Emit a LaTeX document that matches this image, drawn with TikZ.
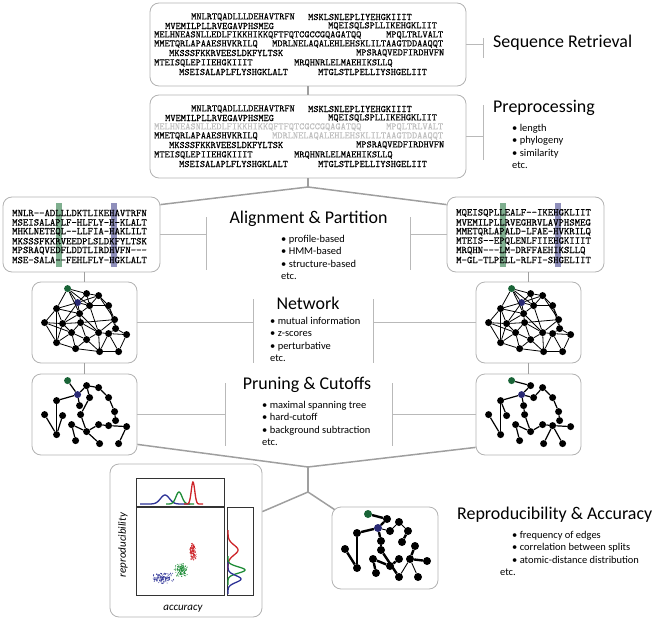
\documentclass[tikz,border=0pt]{standalone}
\usepackage{fontspec}
\setmainfont{Carlito}
\setmonofont{Latin Modern Mono}
\newfontfamily\seqfont{Latin Modern Mono}[FakeBold=0.6]
\usetikzlibrary{positioning,calc}

\definecolor{nodegreen}{RGB}{25,100,55}
\definecolor{nodeblue}{RGB}{40,40,115}
\definecolor{colgreen}{RGB}{95,155,115}
\definecolor{colblue}{RGB}{115,115,170}
\definecolor{ptred}{RGB}{205,35,40}
\definecolor{ptgreen}{RGB}{30,140,55}
\definecolor{ptblue}{RGB}{45,50,150}

% node layout shared by the four small graphs (offsets inside a panel)
\newcommand{\graphnodes}{g/36/7/nodegreen, b/46/21/nodeblue, a1/55/12/black,
  a2/67/14/black, a3/58/24/black, a4/25/27/black, a5/77/24/black, a6/13/41/black,
  a7/31/42/black, a8/49/41/black, a9/83/38/black, a10/40/51/black, a11/55/58/black,
  a12/67/51/black, a13/77/52/black, a14/95/53/black, a15/25/61/black, a16/44/67/black,
  a17/68/70/black, a18/87/70/black, a19/48/32/black, a20/84/47/black}
\newcommand{\netedges}{g/b, g/a1, g/a4, g/a19, g/a3, b/a1, b/a2, b/a3, b/a4, b/a19,
  b/a7, a1/a2, a1/a3, a2/a5, a2/a3, a3/a5, a3/a19, a3/a12, a5/a9, a5/a20, a4/a6,
  a4/a7, a4/a19, a6/a7, a6/a15, a7/a8, a7/a15, a7/a10, a7/a19, a8/a19, a8/a10,
  a8/a11, a8/a12, a8/a9, a9/a20, a9/a12, a20/a13, a20/a14, a12/a13, a12/a11,
  a12/a17, a13/a14, a13/a18, a13/a17, a14/a18, a10/a11, a10/a16, a10/a15, a11/a16,
  a11/a17, a16/a17, a17/a18, a15/a16, a6/a10, a2/a9, a19/a12, a4/a15}
\newcommand{\treeLedges}{g/b, b/a1, a1/a2, a2/a5, a5/a9, b/a4, a4/a15, a6/a15,
  a7/a15, a1/a3, a3/a8, a8/a11, a10/a11, a10/a16, a11/a12, a11/a17, a12/a13,
  a13/a14, a14/a18, a19/b, a9/a20}
\newcommand{\treeRedges}{g/a1, a1/b, b/a4, a4/a15, a6/a15, a7/a4, b/a19, a19/a8,
  a8/a11, a10/a11, a10/a16, a11/a12, a12/a13, a13/a14, a13/a18, a13/a17, b/a3,
  a3/a2, a2/a5, a5/a9, a9/a20}

\begin{document}
\begin{tikzpicture}[x=1bp, y=-1bp,
    panel/.style={draw=gray!60, rounded corners=9bp, line width=0.8bp, inner sep=0},
    link/.style={draw=gray!75, line width=1.5bp},
    guide/.style={draw=gray!55, line width=0.9bp},
    headline/.style={font=\fontsize{18}{20}\selectfont, inner sep=0},
    points/.style={font=\fontsize{10.5}{12.4}\selectfont, align=left, inner sep=0, anchor=north west},
    seq/.style={font=\seqfont\fontsize{9.9}{9}\selectfont, inner sep=0, anchor=west},
    aln/.style={font=\seqfont\fontsize{10.3}{9}\selectfont, inner sep=0, anchor=west},
    dot/.style={circle, fill=black, inner sep=0, minimum size=7bp},
    bigdot/.style={circle, fill=black, inner sep=0, minimum size=8bp},
    edge/.style={line width=0.8bp},
    treeedge/.style={line width=1.2bp},
    frame/.style={draw=black!80, line width=0.9bp, inner sep=0},
    axislabel/.style={font=\itshape\fontsize{11}{12}\selectfont, inner sep=0}]
    \useasboundingbox (0,0) rectangle (661,620);

    % sequence panels
    \node[panel, minimum width=316bp, minimum height=83bp] (seqA) at (308,44.5) {};
    \node[panel, minimum width=316bp, minimum height=83bp] (seqB) at (308,136.5) {};
    \foreach \y/\xa/\sa/\xb/\sb/\ca/\cb [count=\i] in {
        17/191/MNLRTQADLLLDEHAVTRFN/308/MSKLSNLEPLIYEHGKIIIT/black/black,
        26/165/MVEMILPLLRVEGAVPHSMEG/328/MQEISQLSPLLIKEHGKLIIT/black/black,
        35/154/MELHNEASNLLEDLFIKKHIKKQFTFQTCGCCGQAGATQQ/386/MPQLTRLVALT/gray!50/gray!50,
        44/154/MMETQRLAPAAESHVKRILQ/272/MDRLNELAQALEHLEHSKLILTAAGTDDAAQQT/black/gray!50,
        53/169/MKSSSFKKRVEESLDKFYLTSK/356/MPSRAQVEDFIRDHVFN/black/black,
        63/154/MTEISQLEPIIEHGKIIIT/294/MRQHNRLELMAEHIKSLLQ/black/black,
        72/179/MSEISALAPLFLYSHGKLALT/318/MTGLSTLPELLIYSHGELIIT/black/black}{
        \node[seq] (top-\i a) at (\xa,\y) {\sa};
        \node[seq] (top-\i b) at (\xb,\y) {\sb};
        \node[seq, text=\ca] (pre-\i a) at (\xa,\y+92) {\sa};
        \node[seq, text=\cb] (pre-\i b) at (\xb,\y+92) {\sb};
    }

    \node[headline, anchor=west] (hSeq) at (493,43) {Sequence Retrieval};
    \coordinate (tSeq1) at (483,38);
    \coordinate (tSeq2) at (483,58);
    \draw[guide] (tSeq1) -- (tSeq2);
    \draw[guide] (seqA.east) -- (seqA.east -| tSeq1);

    \node[headline, anchor=west] (hPre) at (493,108) {Preprocessing};
    \node[points] (pPre) at (512,124) {• length\\• phylogeny\\• similarity\\etc.};
    \coordinate (tPre1) at (483,105);
    \coordinate (tPre2) at (483,160);
    \draw[guide] (tPre1) -- (tPre2);
    \draw[guide] (seqB.east) -- (seqB.east -| tPre1);

    \draw[link] (seqA.south) -- (seqB.north);

    % alignment panels
    \node[panel, minimum width=157bp, minimum height=75bp] (alnL) at (81.5,234.5) {};
    \node[panel, minimum width=157bp, minimum height=75bp] (alnR) at (525.5,234.5) {};
    \fill[colgreen, opacity=.8] (56,203) rectangle (61.5,267);
    \fill[colblue, opacity=.8] (111,203) rectangle (116.5,267);
    \fill[colgreen, opacity=.8] (500,203) rectangle (505.5,267);
    \fill[colblue, opacity=.8] (555,203) rectangle (560.5,267);
    \foreach \sl/\sr [count=\i] in {
        MNLR--ADLLLDKTLIKEHAVTRFN/MQEISQPLLEALF--IKEHGKLIIT,
        MSEISALAPLF-HLFLY-H-KLALT/MVEMILPLLRVEGHRVLAVPHSMEG,
        MHKLNETEQL--LLFIA-HAKLILT/MMETQRLAPALD-LFAE-HVKRILQ,
        MKSSSFKKRVEEDPLSLDKFYLTSK/MTEIS--EPQLENLFIIEHGKIIIT,
        MPSRAQVEDFLDDTLIRDHVFN---/MRQHN---LM-DRFFAEHIKSLLQ,
        MSE-SALA--FEHLFLY-HGKLALT/M-GL-TLPELL-RLFI-SHGELIIT}{
        \node[aln] (aL-\i) at (12,{203.6+9.4*\i}) {\sl};
        \node[aln] (aR-\i) at (456,{203.6+9.4*\i}) {\sr};
    }

    \coordinate (split) at (308,187);
    \draw[link] (seqB.south) -- (split);
    \draw[link] (split) -- ($(alnL.north east)+(0,8)$);
    \draw[link] (split) -- ($(alnR.north west)+(0,8)$);

    \node[headline] (hAln) at (308.5,219) {Alignment \& Partition};
    \node[points] (pAln) at (281,235) {• profile-based\\• HMM-based\\• structure-based\\etc.};
    \coordinate (tAlnL1) at (206,217);
    \coordinate (tAlnL2) at (206,270);
    \coordinate (tAlnR1) at (410,217);
    \coordinate (tAlnR2) at (410,270);
    \draw[guide] (tAlnL1) -- (tAlnL2);
    \draw[guide] (tAlnR1) -- (tAlnR2);
    \draw[guide] (alnL.east) -- (alnL.east -| tAlnL1);
    \draw[guide] (alnR.west) -- (alnR.west -| tAlnR1);

    % network and pruning panels
    \node[panel, minimum width=105bp, minimum height=81bp] (netL) at (84.5,322.5) {};
    \node[panel, minimum width=105bp, minimum height=81bp] (netR) at (528.5,322.5) {};
    \node[panel, minimum width=105bp, minimum height=81bp] (prnL) at (84.5,414.5) {};
    \node[panel, minimum width=105bp, minimum height=81bp] (prnR) at (528.5,414.5) {};
    \draw[link] (netL.north |- alnL.south) -- (netL.north);
    \draw[link] (netR.north |- alnR.south) -- (netR.north);
    \draw[link] (netL.south) -- (prnL.north);
    \draw[link] (netR.south) -- (prnR.north);

    \foreach \p in {netL,netR,prnL,prnR}{
        \begin{scope}[shift={(\p.north west)}]
            \foreach \n/\x/\y/\c in \graphnodes
                \node[dot, fill=\c] (\p-\n) at (\x,\y) {};
        \end{scope}
    }
    \foreach \p in {netL,netR}
        \foreach \u/\v in \netedges
            \draw[edge] (\p-\u) -- (\p-\v);
    \foreach \u/\v in \treeLedges
        \draw[treeedge] (prnL-\u) -- (prnL-\v);
    \foreach \u/\v in \treeRedges
        \draw[treeedge] (prnR-\u) -- (prnR-\v);

    \node[headline] (hNet) at (308,303) {Network};
    \node[points] (pNet) at (270,317) {• mutual information\\• z-scores\\• perturbative\\etc.};
    \coordinate (tNetL1) at (253,299);
    \coordinate (tNetL2) at (253,363);
    \coordinate (tNetR1) at (373,299);
    \coordinate (tNetR2) at (373,363);
    \draw[guide] (tNetL1) -- (tNetL2);
    \draw[guide] (tNetR1) -- (tNetR2);
    \draw[guide] (netL.east) -- (netL.east -| tNetL1);
    \draw[guide] (netR.west) -- (netR.west -| tNetR1);

    \node[headline] (hPrn) at (307,385) {Pruning \& Cutoffs};
    \node[points] (pPrn) at (262,401) {• maximal spanning tree\\• hard-cutoff\\• background subtraction\\etc.};
    \coordinate (tPrnL1) at (225,383);
    \coordinate (tPrnL2) at (225,446);
    \coordinate (tPrnR1) at (392,383);
    \coordinate (tPrnR2) at (392,446);
    \draw[guide] (tPrnL1) -- (tPrnL2);
    \draw[guide] (tPrnR1) -- (tPrnR2);
    \draw[guide] (prnL.east) -- (prnL.east -| tPrnL1);
    \draw[guide] (prnR.west) -- (prnR.west -| tPrnR1);

    % results
    \node[panel, minimum width=152bp, minimum height=153bp] (plotBox) at (186,540.5) {};
    \node[panel, minimum width=106bp, minimum height=82bp] (treeBox) at (385,548) {};
    \coordinate (merge) at (308,467);
    \coordinate (fork) at (308,492);
    \draw[link] ($(prnL.south east)+(0,-11)$) -- (merge) -- ($(prnR.south west)+(0,-8)$);
    \draw[link] (merge) -- (fork);
    \draw[link] (fork) -- ($(plotBox.north east)+(0,48)$);
    \draw[link] (fork) -- ($(treeBox.north west)+(3,3)$);

    \node[frame, minimum width=88bp, minimum height=28bp] (margTop) at (180,492) {};
    \node[frame, minimum width=88bp, minimum height=88bp] (scatter) at (180,551) {};
    \node[frame, minimum width=26bp, minimum height=88bp] (margRight) at (240,551) {};
    \node[axislabel, rotate=90] (yLabel) at (123,545) {reproducibility};
    \node[axislabel] (xLabel) at (183,609) {accuracy};

    \draw[ptblue, line width=1.3bp] plot[domain=140:190, samples=60, smooth]
        (\x, {504-9*exp(-(\x-165)*(\x-165)/40)});
    \draw[ptgreen, line width=1.3bp] plot[domain=166:194, samples=50, smooth]
        (\x, {504-12*exp(-(\x-179)*(\x-179)/18)});
    \draw[ptred, line width=1.3bp] plot[domain=184:203, samples=50, smooth]
        (\x, {504-22*exp(-(\x-193)*(\x-193)/6)});
    \draw[ptred, line width=1.3bp] plot[domain=530:570, samples=60, smooth]
        ({228+10*exp(-(\x-550)*(\x-550)/50)}, \x);
    \draw[ptgreen, line width=1.3bp] plot[domain=556:585, samples=50, smooth]
        ({228+17*exp(-(\x-570)*(\x-570)/20)}, \x);
    \draw[ptblue, line width=1.3bp] plot[domain=562:594, samples=50, smooth]
        ({228+13*exp(-(\x-579)*(\x-579)/24)}, \x);

    \pgfmathsetseed{11}
    \foreach \i in {1,...,150}{
        \fill[ptred] ({193+1.8*rand+1.8*rand}, {552+5*rand+5*rand}) circle (0.5bp);
        \fill[ptgreen] ({181+3.5*rand+3.5*rand}, {570+3.5*rand+3.5*rand}) circle (0.5bp);
        \fill[ptblue] ({163+6*rand+6*rand}, {578+3*rand+3*rand}) circle (0.5bp);
    }

    \foreach \n/\x/\y/\c in {rg/368/514/nodegreen, r1/387/519/black, rb/378/528/nodeblue,
        r2/357/533/black, r3/390/531/black, r4/399/522/black, r5/408/531/black,
        r6/402/542/black, r7/381/541/black, r8/381/550/black, r9/345/549/black,
        r10/357/568/black, r11/373/559/black, r12/376/573/black, r13/390/566/black,
        r14/399/559/black, r15/399/577/black, r16/415/546/black, r17/410/559/black,
        r18/427/561/black, r19/418/577/black}
        \node[bigdot, fill=\c] (\n) at (\x,\y) {};
    \foreach \u/\v in {rg/r1, r1/rb, rb/r2, r2/r10, r9/r10, rb/r7, r7/r8, r8/r15,
        r11/r12, r11/r13, r13/r14, r5/r6, r16/r17, r17/r18}
        \draw[line width=2.4bp] (\u) -- (\v);
    \foreach \u/\v in {rb/r3, r3/r4, r4/r5, r17/r15, r17/r19}
        \draw[line width=0.9bp] (\u) -- (\v);

    \node[headline, anchor=west] (hRep) at (457,515) {Reproducibility \& Accuracy};
    \node[points] (pRep) at (512,531) {• frequency of edges\\• correlation between splits\\• atomic-distance distribution\\\hspace*{-12bp}etc.};
\end{tikzpicture}
\end{document}
